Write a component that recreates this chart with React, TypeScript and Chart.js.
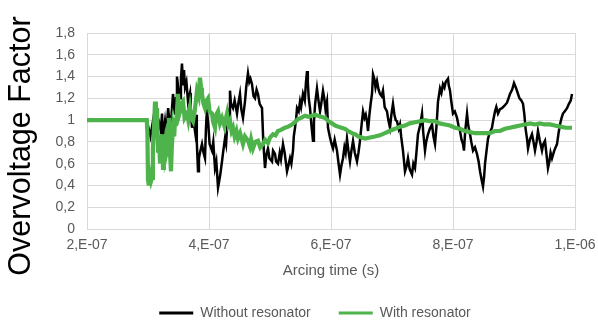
import React, { useEffect, useRef } from "react";
import { Chart, registerables } from "chart.js";

Chart.register(...registerables);

// time in ns
const blackTimes = [200, 298, 300, 304, 309, 314, 318, 321, 323, 324.6, 327.9, 330, 331.1, 333, 336, 338, 341, 344.3, 346, 347.5, 350, 352.5, 354, 355.7, 357.4, 359, 360.7, 363, 365.6, 368.9, 370, 372.1, 374, 377, 378.7, 380, 382, 383.5, 385.2, 388.5, 391, 393.4, 395, 396.5, 399, 401, 404.9, 407, 409.8, 412, 414.8, 417, 418.5, 421.3, 423, 426.2, 428, 431.1, 433, 434.4, 436, 439.3, 442, 445.9, 448, 450.8, 453, 455.7, 459, 461, 463.9, 466, 468, 470.5, 473, 475.4, 478, 480.3, 483, 486.9, 489, 491.8, 494, 496.7, 499, 503.3, 505, 508.2, 510, 513.1, 516, 518, 521.3, 524, 527.9, 530, 532.8, 535, 537.7, 539, 541, 543, 544.3, 547, 549.2, 551, 554.1, 557, 559, 560.7, 562, 563.5, 565.6, 568, 570.5, 572, 574, 577, 579, 582, 584, 586.9, 589, 591, 593.4, 595.1, 598, 601, 603.3, 606, 609.8, 612, 614.8, 617, 619.7, 622, 624, 626.2, 628.5, 631.1, 633.5, 636.1, 639, 642.6, 645, 647.5, 650, 652.5, 655, 657, 659, 660.7, 663, 665, 667.2, 668.9, 671, 673, 675.4, 678, 680.3, 683, 685.2, 688, 691.8, 694, 696.7, 699, 701.6, 704, 706, 708.2, 711, 713.1, 715, 718, 721.3, 724, 726.2, 729, 732.8, 735, 737.7, 740, 742.6, 746, 749.2, 751, 754.1, 756, 759, 762, 765.6, 768, 770.5, 773, 775.4, 778.7, 781, 783.6, 786, 788, 791.8, 793, 795.1, 797, 800, 803, 806.6, 809, 811.5, 814, 816.4, 818, 820, 823, 825, 827.9, 830, 832.8, 836, 839.3, 842, 844.3, 847, 849.2, 851, 852.5, 855, 857.4, 860, 863.9, 866, 868.9, 871, 873.8, 877, 880.3, 884, 888.5, 891, 893.4, 897, 900, 903, 906.6, 909, 912, 914.8, 917, 919, 921.3, 923, 926, 929.5, 932, 934.4, 937, 939.3, 942, 945.9, 948, 950.8, 953, 955.7, 958, 960, 962.3, 966, 970.5, 973, 975.4, 978, 980.3, 983, 986.9, 990, 993, 995.1];
const blackValues = [1.0, 1.0, 0.95, 0.85, 1.02, 0.92, 0.98, 0.9, 1.06, 0.83, 0.99, 0.88, 0.95, 1.11, 0.93, 1.0, 1.24, 1.05, 1.2, 1.4, 1.28, 1.2, 1.38, 1.52, 1.33, 1.46, 1.3, 1.35, 1.17, 1.25, 1.1, 0.93, 1.02, 0.9, 1.05, 0.8, 0.53, 0.65, 0.7, 0.78, 0.7, 0.65, 0.92, 1.1, 0.95, 0.78, 0.72, 0.8, 0.56, 0.62, 0.38, 0.45, 0.5, 0.62, 0.7, 0.83, 0.78, 1.06, 1.0, 1.27, 1.15, 1.11, 1.18, 1.06, 1.15, 1.24, 1.1, 1.02, 1.17, 1.3, 1.43, 1.35, 1.38, 1.33, 1.22, 1.2, 1.28, 1.24, 1.15, 1.11, 0.8, 0.56, 0.68, 0.74, 0.65, 0.62, 0.72, 0.69, 0.62, 0.6, 0.7, 0.64, 0.78, 0.7, 0.53, 0.58, 0.65, 0.6, 0.72, 0.85, 0.93, 1.02, 1.11, 1.08, 1.17, 1.12, 1.24, 1.18, 1.35, 1.45, 1.35, 1.2, 1.11, 0.95, 0.81, 0.98, 1.15, 1.29, 1.2, 1.08, 1.15, 1.27, 1.2, 1.1, 1.17, 0.93, 0.85, 0.78, 0.74, 0.82, 0.72, 0.62, 0.5, 0.58, 0.65, 0.75, 0.7, 0.83, 0.72, 0.62, 0.72, 0.81, 0.7, 0.62, 0.7, 0.81, 0.95, 1.08, 1.02, 1.05, 0.99, 0.9, 1.05, 1.15, 1.24, 1.42, 1.38, 1.3, 1.36, 1.28, 1.24, 1.22, 1.27, 1.12, 1.08, 1.0, 0.93, 1.05, 1.15, 1.05, 1.0, 0.99, 0.92, 0.96, 0.85, 0.72, 0.53, 0.58, 0.65, 0.55, 0.5, 0.6, 0.56, 0.7, 0.87, 0.95, 1.06, 0.9, 0.72, 0.8, 0.87, 0.92, 0.96, 0.85, 0.78, 0.95, 1.17, 1.29, 1.25, 1.33, 1.3, 1.35, 1.38, 1.32, 1.27, 1.18, 1.06, 1.08, 1.02, 0.95, 0.9, 0.82, 0.78, 0.72, 0.9, 1.06, 0.95, 0.87, 0.8, 0.72, 0.75, 0.69, 0.62, 0.53, 0.45, 0.39, 0.48, 0.6, 0.72, 0.83, 0.88, 0.93, 1.0, 1.08, 1.12, 1.06, 1.1, 1.11, 1.13, 1.16, 1.2, 1.24, 1.28, 1.34, 1.3, 1.24, 1.2, 1.18, 1.15, 1.05, 0.92, 0.83, 0.74, 0.82, 0.87, 0.8, 0.72, 0.8, 0.9, 0.82, 0.72, 0.78, 0.81, 0.7, 0.56, 0.62, 0.7, 0.65, 0.72, 0.78, 0.88, 0.96, 1.02, 1.06, 1.08, 1.11, 1.15, 1.18, 1.24];

const greenTimes = [200, 298, 299, 300, 301.5, 303, 305, 306.6, 308, 310, 311.5, 313, 314.8, 316.4, 318, 319.7, 321, 323, 324.6, 326, 327.9, 329.5, 331.1, 333, 334.4, 336, 337.7, 339, 341, 343, 344.3, 346, 349.2, 351, 352.5, 355, 357.4, 360, 363.9, 366, 368.9, 371, 373.8, 377, 380.3, 383, 385.2, 387, 388.5, 391, 393.4, 396, 398.4, 401, 404.9, 407, 409.8, 412, 414.8, 418, 421.3, 425, 429.5, 432, 434.4, 437, 439.3, 442, 445, 447.5, 451, 455.7, 459, 463.9, 467, 469, 472.1, 476, 480.3, 484, 488.5, 492, 496.7, 500, 504.9, 509, 513.1, 518, 524.6, 530, 536.1, 541, 545.9, 551, 557.4, 563, 568.9, 574, 578.7, 584, 590.2, 596, 601.6, 607, 611.5, 617, 622.9, 628, 634.4, 640, 644.3, 650, 655.7, 664, 672.1, 680, 688.5, 696, 704.9, 713, 721.3, 729, 737.7, 746, 754.1, 762, 770.5, 778, 786.9, 795, 803.3, 811, 819.7, 828, 836.1, 844, 852.5, 860, 868.9, 877, 885.2, 893, 901.6, 910, 918, 926.2, 934, 942.6, 950, 959, 967, 975.4, 985, 995.1];
const greenValues = [1.0, 1.0, 0.88, 0.45, 0.4, 0.5, 0.44, 0.47, 0.74, 0.95, 1.17, 1.05, 1.11, 0.72, 0.8, 0.62, 0.75, 0.87, 0.56, 0.7, 0.78, 0.68, 0.72, 0.95, 1.02, 0.7, 0.53, 0.75, 0.93, 0.85, 1.02, 0.95, 1.24, 1.05, 1.08, 1.15, 1.17, 1.02, 1.06, 1.0, 1.11, 1.02, 0.99, 1.1, 1.27, 1.22, 1.39, 1.3, 1.24, 1.15, 1.11, 1.18, 1.2, 1.08, 1.06, 0.98, 0.93, 1.05, 1.08, 0.97, 1.02, 0.95, 1.06, 0.96, 0.99, 0.9, 0.93, 0.85, 0.9, 0.83, 0.88, 0.78, 0.85, 0.81, 0.76, 0.82, 0.74, 0.8, 0.81, 0.75, 0.78, 0.82, 0.79, 0.84, 0.87, 0.86, 0.9, 0.91, 0.93, 0.94, 0.96, 0.98, 1.01, 1.02, 1.04, 1.03, 1.04, 1.05, 1.04, 1.03, 1.02, 0.99, 0.97, 0.95, 0.94, 0.93, 0.92, 0.9, 0.88, 0.87, 0.85, 0.84, 0.83, 0.84, 0.85, 0.86, 0.88, 0.9, 0.92, 0.94, 0.95, 0.97, 0.98, 0.99, 1.0, 0.99, 0.99, 0.97, 0.96, 0.95, 0.93, 0.92, 0.9, 0.89, 0.88, 0.88, 0.88, 0.88, 0.9, 0.9, 0.92, 0.93, 0.94, 0.95, 0.96, 0.97, 0.96, 0.97, 0.96, 0.96, 0.95, 0.94, 0.93, 0.93];

const seriesNames = ["Without resonator", "With resonator"];
const xTickLabels = ["2,E-07", "4,E-07", "6,E-07", "8,E-07", "1,E-06"];
const yTickLabels = ["0", "0,2", "0,4", "0,6", "0,8", "1", "1,2", "1,4", "1,6", "1,8"];
const xAxisTitle = "Arcing time (s)";
const yAxisTitle = "Overvoltage Factor";

const FONT = '"Liberation Sans", Arial, sans-serif';
const GRAY = "#595959";
const GRID = "#d9d9d9";
const BLACK = "#000000";
const GREEN = "#4db34a";

const yTitlePlugin = {
  id: "yTitlePlugin",
  afterDraw(chart: any) {
    const ctx = chart.ctx;
    ctx.save();
    ctx.translate(22, 146);
    ctx.rotate(-Math.PI / 2);
    ctx.font = `30.5px ${FONT}`;
    ctx.fillStyle = "#000000";
    ctx.textAlign = "center";
    ctx.textBaseline = "middle";
    ctx.fillText(yAxisTitle, 0, 0);
    ctx.restore();
  },
};

export default function App() {
  const ref = useRef<HTMLCanvasElement | null>(null);

  useEffect(() => {
    document.body.style.margin = "0";
    const canvas = ref.current;
    if (!canvas) return;
    const toPts = (ts: number[], vs: number[]) => ts.map((t, i) => ({ x: t, y: vs[i] }));
    const chart = new Chart(canvas, {
      type: "line",
      data: {
        datasets: [
          {
            label: seriesNames[0],
            data: toPts(blackTimes, blackValues),
            borderColor: BLACK,
            backgroundColor: BLACK,
            borderWidth: 2.5,
            pointRadius: 0,
            tension: 0,
            order: 1,
          },
          {
            label: seriesNames[1],
            data: toPts(greenTimes, greenValues),
            borderColor: GREEN,
            backgroundColor: GREEN,
            borderWidth: 4.2,
            pointRadius: 0,
            tension: 0,
            order: 0,
          },
        ],
      },
      options: {
        responsive: false,
        animation: false,
        layout: { padding: { left: 55, right: 23, top: 33, bottom: -10 } },
        scales: {
          x: {
            type: "linear",
            min: 200,
            max: 1000,
            afterFit: (s: any) => {
              s.height = 49;
              s.paddingLeft = 0;
              s.paddingRight = 0;
            },
            ticks: {
              stepSize: 200,
              padding: 8,
              color: GRAY,
              font: { family: FONT, size: 14 },
              maxRotation: 0,
              callback: (_v: any, i: number) => xTickLabels[i],
            },
            grid: { color: GRID, drawTicks: false, lineWidth: 1 },
            border: { color: GRID },
            title: {
              display: true,
              text: xAxisTitle,
              color: GRAY,
              font: { family: FONT, size: 15 },
              padding: { top: 0, bottom: -2 },
            },
          },
          y: {
            min: 0,
            max: 1.8,
            afterFit: (s: any) => {
              s.width = 32;
              s.paddingTop = 0;
              s.paddingBottom = 0;
            },
            ticks: {
              stepSize: 0.2,
              padding: 12,
              color: GRAY,
              font: { family: FONT, size: 14 },
              callback: (_v: any, i: number) => yTickLabels[i],
            },
            grid: { color: GRID, drawTicks: false, lineWidth: 1 },
            border: { color: GRID },
          },
        },
        plugins: {
          tooltip: { enabled: false },
          legend: {
            position: "bottom",
            labels: {
              boxWidth: 34,
              boxHeight: 3,
              padding: 28,
              color: GRAY,
              font: { family: FONT, size: 14 },
              sort: (a: any, b: any) => a.datasetIndex - b.datasetIndex,
              generateLabels: (c: any) =>
                Chart.defaults.plugins.legend.labels
                  .generateLabels(c)
                  .map((it: any) => ({ ...it, lineWidth: 0 })),
            },
          },
        },
      },
      plugins: [yTitlePlugin],
    });
    return () => chart.destroy();
  }, []);

  return (
    <div style={{ width: 598, height: 320 }}>
      <canvas ref={ref} width={598} height={320} />
    </div>
  );
}
